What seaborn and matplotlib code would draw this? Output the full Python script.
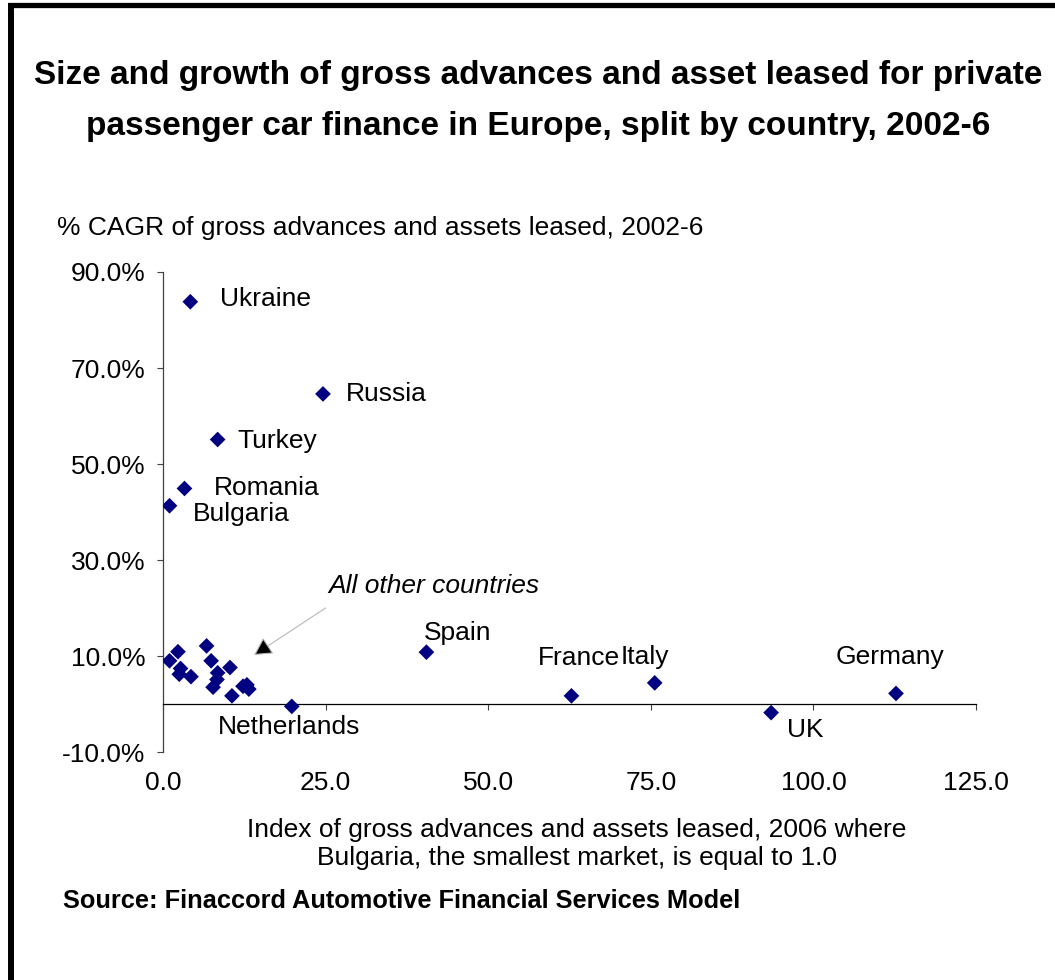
import matplotlib
matplotlib.use("Agg")
import matplotlib.pyplot as plt
from matplotlib.lines import Line2D
from matplotlib.ticker import FixedLocator, FormatStrFormatter, PercentFormatter
import pandas as pd
import seaborn as sns

# Named markets: 2006 index (Bulgaria = 1.0) and 2002-6 CAGR in percent
countries = ["Ukraine", "Russia", "Turkey", "Romania", "Bulgaria", "Spain",
             "Netherlands", "France", "Italy", "UK", "Germany"]
market_index = [4.2, 24.6, 8.4, 3.3, 1.0, 40.5, 19.8, 62.8, 75.6, 93.5, 112.7]
cagr_pct = [83.8, 64.6, 55.1, 44.9, 41.3, 10.8, -0.5, 1.7, 4.4, -1.8, 2.2]

# Remaining (unlabelled) markets
other_index = [1.0, 2.3, 2.7, 2.5, 4.3, 6.7, 7.4, 8.4, 8.3, 7.7, 10.3, 10.6, 12.3, 12.9, 13.2]
other_cagr = [9.0, 10.9, 7.4, 6.2, 5.7, 12.1, 9.0, 6.5, 5.1, 3.5, 7.6, 1.7, 3.7, 4.0, 3.1]

x_ticks = [0, 25, 50, 75, 100, 125]
y_ticks = [-10, 10, 30, 50, 70, 90]

title = ("Size and growth of gross advances and asset leased for private\n"
         "passenger car finance in Europe, split by country, 2002-6")
y_title = "% CAGR of gross advances and assets leased, 2002-6"
x_title = ("Index of gross advances and assets leased, 2006 where\n"
           "Bulgaria, the smallest market, is equal to 1.0")
source = "Source: Finaccord Automotive Financial Services Model"
other_note = "All other countries"

# label offsets from each point, in pixels (dx, dy)
label_offsets = {
    "Ukraine": (30, 3), "Russia": (23, 0), "Turkey": (20, -1),
    "Romania": (29, 0), "Bulgaria": (23, -8), "Spain": (-3, 19),
    "Netherlands": (-74, -21), "France": (-34, 38), "Italy": (-34, 26),
    "Germany": (-60, 36), "UK": (16, -17),
}

sns.set_theme(style="white")
plt.rcParams["font.family"] = ["Liberation Sans", "DejaVu Sans"]
plt.rcParams["text.color"] = "black"
plt.rcParams["axes.unicode_minus"] = False

W, H = 1055, 980
FS = 19
fig = plt.figure(figsize=(W / 100, H / 100), dpi=100)
fig.patch.set_facecolor("white")

ax = fig.add_axes([163 / W, (H - 752) / H, 813 / W, 480 / H])
ax.set_facecolor("white")

df = pd.DataFrame({
    "index": market_index + other_index,
    "cagr": cagr_pct + other_cagr,
})
sns.scatterplot(data=df, x="index", y="cagr", marker="D", s=64,
                color="#000080", edgecolor="none", linewidth=0, ax=ax,
                legend=False, zorder=3)

ax.set_xlim(0, 125)
ax.set_ylim(-10, 90)
ax.xaxis.set_major_locator(FixedLocator(x_ticks))
ax.yaxis.set_major_locator(FixedLocator(y_ticks))
ax.xaxis.set_major_formatter(FormatStrFormatter("%.1f"))
ax.yaxis.set_major_formatter(PercentFormatter(xmax=100, decimals=1))
ax.set_xlabel("")
ax.set_ylabel("")

for side in ("top", "right"):
    ax.spines[side].set_visible(False)
ax.spines["bottom"].set_position(("data", 0))
ax.spines["bottom"].set_color("black")
ax.spines["left"].set_color("#404040")
for side in ("bottom", "left"):
    ax.spines[side].set_linewidth(0.9)

ax.tick_params(axis="both", which="major", direction="out", length=4.5,
               width=0.8, color="#404040", labelsize=FS, labelcolor="black",
               bottom=True, left=True)
ax.tick_params(axis="x", pad=44)
ax.tick_params(axis="y", pad=8)

for name, xv, yv in zip(countries, market_index, cagr_pct):
    dx, dy = label_offsets[name]
    ax.annotate(name, xy=(xv, yv), xytext=(dx, dy), textcoords="offset pixels",
                ha="left", va="center", fontsize=FS, color="black")

ax.annotate("", xy=(14.0, 10.2), xytext=(25.0, 20.0),
            arrowprops=dict(arrowstyle="-|>,head_length=0.55,head_width=0.3",
                            color="#b8b8b8", fc="black", lw=0.8,
                            mutation_scale=20, shrinkA=0, shrinkB=0))
ax.text(25.4, 24.6, other_note, ha="left", va="center", fontsize=FS,
        fontstyle="italic", color="black")

fig.text(538 / W, 1 - 101 / H, title, ha="center", va="center",
         fontsize=24, fontweight="bold", linespacing=1.85, color="black")
fig.text(57 / W, 1 - 228 / H, y_title, ha="left", va="center", fontsize=FS)
fig.text(577 / W, 1 - 844 / H, x_title, ha="center", va="center",
         fontsize=FS, linespacing=1.25)
fig.text(63 / W, 1 - 901 / H, source, ha="left", va="center",
         fontsize=18.3, fontweight="bold")

# frame along the top and left edges
fig.add_artist(Line2D([8 / W, 1], [1 - 5.5 / H, 1 - 5.5 / H],
                      transform=fig.transFigure, color="black", lw=3.8,
                      solid_capstyle="butt"))
fig.add_artist(Line2D([11 / W, 11 / W], [0, 1 - 3 / H],
                      transform=fig.transFigure, color="black", lw=4.3,
                      solid_capstyle="butt"))

fig.savefig("out.png", dpi=100, facecolor="white")
